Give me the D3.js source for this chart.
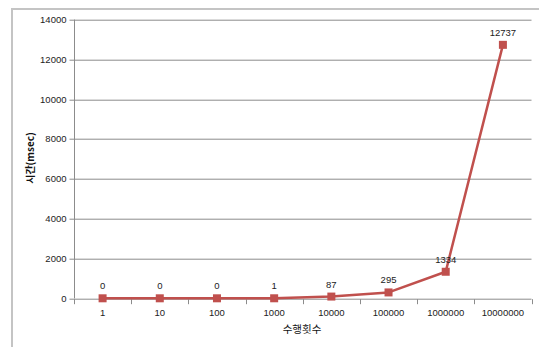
<!DOCTYPE html>
<html>
<head>
<meta charset="utf-8">
<script src="https://cdn.jsdelivr.net/npm/d3@7"></script>
<style>
  html, body { margin: 0; padding: 0; background: #fff; }
  svg { display: block; }
  text { font-family: "Liberation Sans", Arial, "Noto Sans CJK KR", sans-serif; }
</style>
</head>
<body>
<script>
// Execution count vs elapsed time
const categories = ["1", "10", "100", "1000", "10000", "100000", "1000000", "10000000"];
const timesMs = [0, 0, 0, 1, 87, 295, 1334, 12737];
const yTicks = [0, 2000, 4000, 6000, 8000, 10000, 12000, 14000];
const xTitle = "수행횟수";
const yTitle = "시간(msec)";

const W = 539, H = 347;
const margin = { left: 74, right: 8, top: 19.7, bottom: 48.7 };
const plotW = 531.5 - margin.left;
const plotH = 298.3 - margin.top;

const svg = d3.select("body").append("svg").attr("width", W).attr("height", H);

// chart frame (left and top edges)
svg.append("path")
  .attr("d", `M12,${H} L12,9 L${W},9`)
  .attr("fill", "none").attr("stroke", "#c4c4c4").attr("stroke-width", 2);

const g = svg.append("g").attr("transform", `translate(${margin.left},${margin.top})`);

const x = d3.scaleBand().domain(categories).range([0, plotW]).paddingInner(0).paddingOuter(0);
const y = d3.scaleLinear().domain([0, 14000]).range([plotH, 0]);

// horizontal gridlines
g.append("g").selectAll("line").data(yTicks.filter(d => d > 0)).join("line")
  .attr("x1", 0).attr("x2", plotW)
  .attr("y1", d => Math.round(y(d)) + 0.5).attr("y2", d => Math.round(y(d)) + 0.5)
  .attr("stroke", "#8c8c8c").attr("stroke-width", 1);

// y axis
const yAxis = g.append("g").attr("transform", "translate(0.5,0)")
  .call(d3.axisLeft(y).tickValues(yTicks).tickSize(5).tickPadding(3).tickFormat(d3.format("d")));
yAxis.select(".domain").attr("stroke", "#8c8c8c").attr("d", `M0,${plotH}V0`);
yAxis.selectAll(".tick line").attr("stroke", "#8c8c8c");
yAxis.selectAll(".tick text").attr("font-size", 9.5).attr("fill", "#222");
yAxis.selectAll(".tick").attr("transform", d => `translate(0,${Math.round(y(d)) + 0.5})`);

// x axis
const xAxis = g.append("g").attr("transform", `translate(0,${Math.round(plotH) + 0.5})`);
xAxis.append("line").attr("x1", 0).attr("x2", plotW).attr("stroke", "#8c8c8c");
const bounds = d3.range(categories.length + 1).map(i => i * x.step());
xAxis.selectAll("line.tk").data(bounds).join("line").attr("class", "tk")
  .attr("x1", d => Math.round(d) + 0.5).attr("x2", d => Math.round(d) + 0.5)
  .attr("y1", 0).attr("y2", 5).attr("stroke", "#8c8c8c");
xAxis.selectAll("text").data(categories).join("text")
  .attr("x", d => x(d) + x.bandwidth() / 2).attr("y", 16.5)
  .attr("text-anchor", "middle").attr("font-size", 9.5).attr("fill", "#222")
  .text(d => d);

// axis titles
svg.append("text").attr("x", 302).attr("y", 333)
  .attr("text-anchor", "middle").attr("font-size", 10.5).attr("fill", "#111")
  .style("font-family", "'Noto Sans CJK KR', sans-serif")
  .text(xTitle);
svg.append("text")
  .attr("transform", "translate(34,158) rotate(-90)")
  .attr("text-anchor", "middle").attr("font-size", 10).attr("font-weight", "bold").attr("fill", "#111")
  .style("font-family", "'Noto Sans CJK KR', sans-serif")
  .text(yTitle);

// series
const pts = categories.map((c, i) => ({ c, v: timesMs[i] }));
const line = d3.line().x(d => x(d.c) + x.bandwidth() / 2).y(d => y(d.v));
g.append("path").datum(pts).attr("d", line)
  .attr("fill", "none").attr("stroke", "#c0504d").attr("stroke-width", 2.5).attr("stroke-linejoin", "round");

g.selectAll("rect.mk").data(pts).join("rect").attr("class", "mk")
  .attr("x", d => x(d.c) + x.bandwidth() / 2 - 4).attr("y", d => y(d.v) - 4)
  .attr("width", 8).attr("height", 8).attr("fill", "#c0504d");

// data labels
g.selectAll("text.lbl").data(pts).join("text").attr("class", "lbl")
  .attr("x", d => x(d.c) + x.bandwidth() / 2).attr("y", d => y(d.v) - 9)
  .attr("text-anchor", "middle").attr("font-size", 9.5).attr("fill", "#222")
  .text(d => d.v);
</script>
</body>
</html>
